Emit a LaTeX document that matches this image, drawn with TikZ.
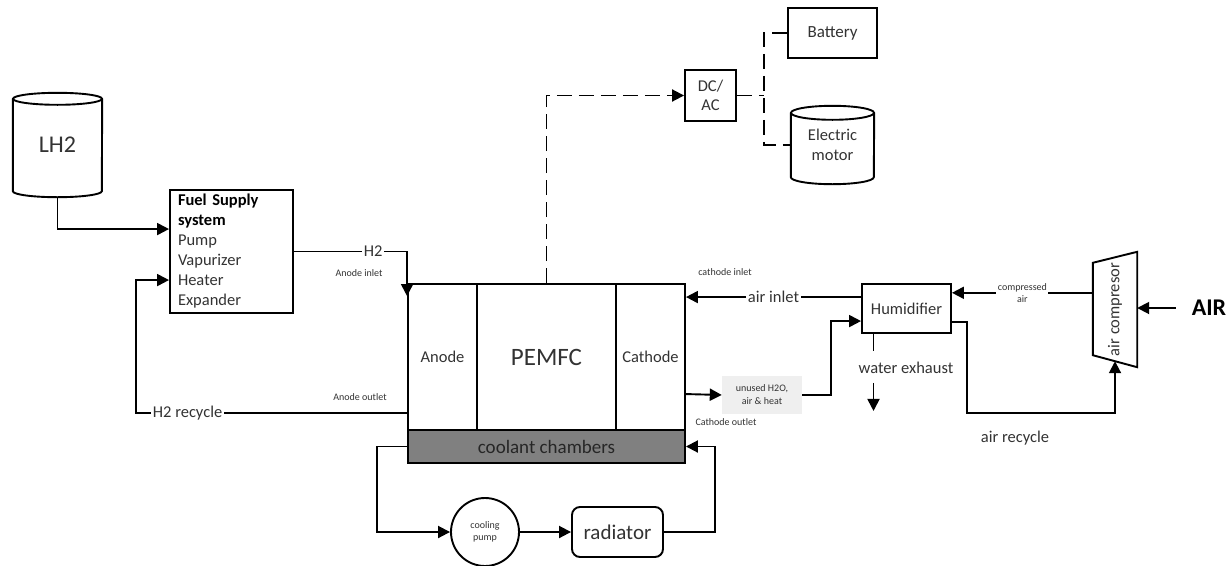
\documentclass[tikz,border=0pt]{standalone}
\usepackage{fontspec}
\setmainfont{Carlito}
\usetikzlibrary{arrows.meta,calc}
\definecolor{ink}{HTML}{333333}
\definecolor{coolfill}{HTML}{808080}
\definecolor{notefill}{HTML}{EFEFEF}
\newcommand\fsz[2]{\fontsize{#1}{#2}\selectfont}

\begin{document}
\begin{tikzpicture}[x=1pt,y=-1pt,
  wire/.style={line width=1.9pt, draw=black},
  arr/.style={wire, -{Triangle[length=12pt,width=12pt]}},
  dashline/.style={wire, dash pattern=on 15pt off 7pt},
  dasharr/.style={dashline, -{Triangle[length=12pt,width=12pt]}},
  blk/.style={draw, line width=1.9pt, inner sep=0pt, text=ink, font=\fsz{16.5}{20}, align=center},
  txt/.style={text=ink, font=\fsz{16.5}{20}, inner sep=1pt, align=center},
  smalltxt/.style={text=ink, font=\fsz{10}{12}, inner sep=1pt, align=center},
  onwire/.style={fill=white, inner sep=1.5pt, text=ink, font=\fsz{16.5}{20}, align=center},
]
\fill[white] (0,0) rectangle (1230,565);
\useasboundingbox (0,0) rectangle (1230,565);

% ---------- hydrogen tank and fuel supply ----------
\node[txt, font=\fsz{24}{24}, minimum width=89pt, minimum height=92pt] (lh2) at (57.5,145) {LH2};
\draw[wire] (lh2.north west) -- (lh2.south west)
  arc[start angle=180, end angle=360, x radius=44.5pt, y radius=6pt] -- (lh2.north east);
\draw[wire] (lh2.north) ellipse [x radius=44.5pt, y radius=6pt];

\node[blk, minimum width=123pt, minimum height=123pt, text width=107pt, align=left] (fuel) at (231.5,251.5)
  {{\color{black}\bfseries Fuel Supply}\\{\color{black}\bfseries system}\\Pump\\Vapurizer\\Heater\\Expander};

% ---------- fuel cell stack ----------
\node[blk, minimum width=69pt, minimum height=146pt] (anode) at (442.5,357) {Anode};
\node[blk, minimum width=139pt, minimum height=146pt, font=\fsz{25}{25}] (core) at (546.5,357) {PEMFC};
\node[blk, minimum width=69pt, minimum height=146pt] (cathode) at (650.5,357) {\raisebox{-7pt}{Cathode}};
\node[blk, fill=coolfill, text=black!85, minimum width=277pt, minimum height=33pt, font=\fsz{19}{19}] (cool) at (546.5,446.5) {coolant chambers};

% ---------- cooling loop ----------
\node[blk, circle, minimum size=68pt, font=\fsz{10}{12}] (pump) at (485,532) {cooling\\pump};
\node[blk, rounded corners=8pt, minimum width=91pt, minimum height=50pt, font=\fsz{21}{21}] (rad) at (617.5,532) {radiator};

% ---------- electrical side ----------
\node[blk, minimum width=51pt, minimum height=51pt, font=\fsz{16.5}{19}] (dcac) at (710.5,95.5) {DC/\\AC};
\node[blk, minimum width=89pt, minimum height=50pt, font=\fsz{17}{20}] (bat) at (832.5,33) {Battery};
\node[txt, minimum width=83pt, minimum height=64pt] (motor) at (832.5,145) {Electric\\motor};
\draw[wire] (motor.north west) -- (motor.south west)
  arc[start angle=180, end angle=360, x radius=41.5pt, y radius=7pt] -- (motor.north east);
\draw[wire] (motor.north) ellipse [x radius=41.5pt, y radius=7pt];

% ---------- air side ----------
\node[blk, minimum width=89pt, minimum height=49pt] (hum) at (906.5,308.5) {Humidifier};
\node[smalltxt, fill=notefill, minimum width=80pt, minimum height=38pt, font=\fsz{10}{13}] (unused) at (762,395) {unused H2O,\\air \& heat};
\node[minimum width=44pt, minimum height=115pt, inner sep=0pt] (comp) at (1115,309.5) {};
\draw[wire] (comp.north east) -- (comp.south east) -- ([yshift=12pt]comp.south west)
  -- ([yshift=-11pt]comp.north west) -- cycle;
\node[txt, rotate=90] (complabel) at (comp.center) {air compresor};
\node[text=black, font=\fsz{24}{24}\bfseries, inner sep=0pt] (air) at (1209,308) {AIR};

% ---------- port labels ----------
\node[smalltxt] (ain) at (359,273) {Anode inlet};
\node[smalltxt] (aout) at (360,397) {Anode outlet};
\node[smalltxt] (cin) at (725,272) {cathode inlet};
\node[smalltxt] (cout) at (726,422) {Cathode outlet};
\node[txt] (wx) at (906,368) {water exhaust};
\node[txt] (arec) at (1015,438) {air recycle};

% ---------- hydrogen connectors ----------
\draw[arr] ([yshift=-6pt]lh2.south) |- ([yshift=-40pt]fuel.north west);
\draw[arr] (fuel.east) -| node[onwire, pos=0.35] {H2} ([yshift=-13pt]anode.north west);
\draw[arr] ([yshift=-130pt]anode.north west) -- node[onwire, pos=0.81] {H2 recycle} ++(-271pt,0)
  |- ([yshift=-91pt]fuel.north west);

% ---------- electrical connectors ----------
\coordinate (bus) at ([xshift=27pt]dcac.east);
\draw[dasharr] (core.north) |- (dcac.west);
\draw[dashline] (dcac.east) -- (bus);
\draw[dashline] (bat.west) -- (bat.west -| bus) |- (motor.west);

% ---------- air connectors ----------
\draw[arr] ([yshift=-14pt]hum.north west) -- node[onwire] {air inlet} ([yshift=-14pt]cathode.north east);
\draw[arr] ([yshift=-111pt]cathode.north east) -- (unused.west);
\draw[arr] (unused.east) -- ++(29pt,0) |- ([yshift=-38pt]hum.north west);
\coordinate (cout2) at ([yshift=-41pt]comp.north west);
\draw[arr] (cout2) -- node[onwire, font=\fsz{10}{12}] {compressed\\air} (cout2 -| hum.east);
\coordinate (airin) at ([xshift=-16pt]air.west);
\draw[arr] (airin) -- (airin -| comp.east);
\coordinate (crin) at ([yshift=6pt]comp.south);
\draw[arr] ([yshift=-39pt]hum.north east) -- ++(15pt,0) |- ($(crin)+(0,52)$) -- (crin);
\coordinate (wtop) at ([xshift=-33pt]hum.south);
\draw[wire] (wtop) -- ++(0,17);
\draw[arr] (wtop) ++(0,49) -- ++(0,28);

% ---------- coolant connectors ----------
\draw[arr] (cool.west) -- ++(-30pt,0) |- (pump.west);
\draw[arr] (pump.east) -- (rad.west);
\draw[arr] (rad.east) -- ++(51pt,0) |- (cool.east);
\end{tikzpicture}
\end{document}
